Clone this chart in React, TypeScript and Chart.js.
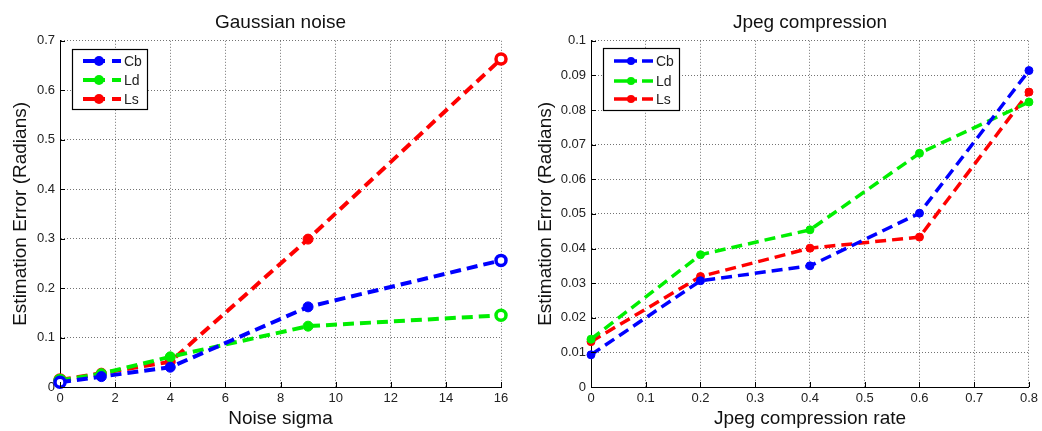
import React, { useEffect, useRef } from "react";
import { Chart, registerables } from "chart.js";

Chart.register(...registerables);

// ---------- data ----------
const seriesNames = ["Cb", "Ld", "Ls"];
const seriesColors = ["#0000ff", "#00ee00", "#ff0000"];

const noiseSigma = [0, 1.5, 4, 9, 16];
const noiseCb = [0.0095, 0.021, 0.04, 0.162, 0.256];
const noiseLd = [0.013, 0.027, 0.061, 0.123, 0.145];
const noiseLs = [0.014, 0.028, 0.051, 0.299, 0.663];

const jpegRate = [0, 0.2, 0.4, 0.6, 0.8];
const jpegCb = [0.0093, 0.0307, 0.035, 0.0502, 0.0914];
const jpegLd = [0.0138, 0.0382, 0.0454, 0.0675, 0.0823];
const jpegLs = [0.0131, 0.0319, 0.0401, 0.0433, 0.0852];

const noiseXTicks = [0, 2, 4, 6, 8, 10, 12, 14, 16];
const noiseYTicks = [0, 0.1, 0.2, 0.3, 0.4, 0.5, 0.6, 0.7];
const jpegXTicks = [0, 0.1, 0.2, 0.3, 0.4, 0.5, 0.6, 0.7, 0.8];
const jpegYTicks = [0, 0.01, 0.02, 0.03, 0.04, 0.05, 0.06, 0.07, 0.08, 0.09, 0.1];

const FONT = "'Liberation Sans', Arial, Helvetica, sans-serif";

const fmt = (v: number) => String(Number(Number(v).toFixed(3)));

// inward tick marks on left / bottom axes + boxed legend
const decorPlugin = {
  id: "decor",
  afterDraw(chart: any, _args: any, opts: any) {
    const { ctx, chartArea } = chart;
    const xs = chart.scales.x;
    const ys = chart.scales.y;
    ctx.save();
    ctx.strokeStyle = "#000";
    ctx.lineWidth = 1;
    ctx.beginPath();
    xs.ticks.forEach((t: any) => {
      const px = Math.round(xs.getPixelForValue(t.value)) + 0.5;
      ctx.moveTo(px, chartArea.bottom);
      ctx.lineTo(px, chartArea.bottom - 5);
    });
    ys.ticks.forEach((t: any) => {
      const py = Math.round(ys.getPixelForValue(t.value)) + 0.5;
      ctx.moveTo(chartArea.left, py);
      ctx.lineTo(chartArea.left + 5, py);
    });
    ctx.stroke();

    // legend
    const L = opts;
    ctx.fillStyle = "#fff";
    ctx.fillRect(L.x, L.y, L.w, L.h);
    ctx.strokeStyle = "#000";
    ctx.lineWidth = 1.2;
    ctx.strokeRect(L.x + 0.5, L.y + 0.5, L.w, L.h);
    chart.data.datasets.forEach((ds: any, i: number) => {
      const ry = L.rows[i];
      ctx.strokeStyle = ds.borderColor;
      ctx.lineWidth = ds.borderWidth;
      ctx.setLineDash([]);
      ctx.beginPath();
      ctx.moveTo(L.l1, ry);
      ctx.lineTo(L.l2, ry);
      ctx.moveTo(L.l3, ry);
      ctx.lineTo(L.l4, ry);
      ctx.stroke();
      ctx.fillStyle = ds.borderColor;
      ctx.beginPath();
      ctx.arc(L.mx, ry, L.mr, 0, Math.PI * 2);
      ctx.fill();
      ctx.fillStyle = "#222";
      ctx.font = `14px ${FONT}`;
      ctx.textBaseline = "middle";
      ctx.textAlign = "left";
      ctx.fillText(ds.label, L.tx, ry + 1);
    });
    ctx.restore();
  },
};

function makeConfig(p: any) {
  const n = p.xs.length;
  const datasets = p.series.map((vals: number[], i: number) => ({
    label: seriesNames[i],
    data: p.xs.map((x: number, j: number) => ({ x, y: vals[j] })),
    borderColor: seriesColors[i],
    backgroundColor: seriesColors[i],
    borderWidth: p.lineWidth,
    borderDash: [11, 6],
    pointRadius: p.pointRadius,
    pointBackgroundColor: p.xs.map((_: number, j: number) =>
      p.hollowEnds && (j === 0 || j === n - 1) ? "#ffffff" : seriesColors[i]
    ),
    pointBorderColor: seriesColors[i],
    pointBorderWidth: p.xs.map((_: number, j: number) =>
      p.hollowEnds && (j === 0 || j === n - 1) ? 3.5 : 1
    ),
    tension: 0,
    clip: false,
  }));
  const gridCommon = {
    color: "rgba(0,0,0,0.55)",
    lineWidth: 1,
    drawTicks: false,
  };
  const borderCommon = { display: true, color: "#000", width: 1, dash: [1, 2] };
  return {
    type: "line",
    data: { datasets },
    plugins: [decorPlugin],
    options: {
      responsive: false,
      animation: false,
      events: [],
      layout: { padding: { left: 0, right: p.padRight, top: 0, bottom: 0 } },
      plugins: {
        legend: { display: false },
        tooltip: { enabled: false },
        title: {
          display: true,
          text: p.title,
          fullSize: false,
          color: "#111",
          font: { family: FONT, size: 19, weight: "normal" },
          padding: { top: 11, bottom: 7 },
        },
        decor: p.legend,
      },
      scales: {
        x: {
          type: "linear",
          min: p.xs[0],
          max: p.xTicks[p.xTicks.length - 1],
          afterBuildTicks: (s: any) => {
            s.ticks = p.xTicks.map((v: number) => ({ value: v }));
          },
          afterFit: (s: any) => {
            s.height = 44;
          },
          ticks: {
            color: "#222",
            font: { family: FONT, size: 13 },
            padding: 4,
            maxRotation: 0,
            autoSkip: false,
            callback: (v: any) => fmt(v),
          },
          grid: gridCommon,
          border: borderCommon,
          title: {
            display: true,
            text: p.xTitle,
            color: "#111",
            font: { family: FONT, size: 19 },
            padding: { top: 0, bottom: 1 },
          },
        },
        y: {
          type: "linear",
          min: 0,
          max: p.yTicks[p.yTicks.length - 1],
          afterBuildTicks: (s: any) => {
            s.ticks = p.yTicks.map((v: number) => ({ value: v }));
          },
          afterFit: (s: any) => {
            s.width = p.yWidth;
          },
          ticks: {
            color: "#222",
            font: { family: FONT, size: 13 },
            padding: 5,
            autoSkip: false,
            callback: (v: any) => fmt(v),
          },
          grid: gridCommon,
          border: borderCommon,
          title: {
            display: true,
            text: "Estimation Error (Radians)",
            color: "#111",
            font: { family: FONT, size: 19 },
            padding: { top: p.yTitlePad, bottom: 0 },
          },
        },
      },
    },
  };
}

function Plot(props: { cfg: any; left: number }) {
  const ref = useRef<HTMLCanvasElement>(null);
  useEffect(() => {
    if (!ref.current) return;
    const chart = new Chart(ref.current, makeConfig(props.cfg) as any);
    return () => chart.destroy();
  }, []);
  return (
    <canvas
      ref={ref}
      width={521}
      height={431}
      style={{ position: "absolute", left: props.left, top: 0, width: 521, height: 431 }}
    />
  );
}

const leftCfg = {
  title: "Gaussian noise",
  xTitle: "Noise sigma",
  xs: noiseSigma,
  series: [noiseCb, noiseLd, noiseLs],
  xTicks: noiseXTicks,
  yTicks: noiseYTicks,
  yWidth: 60,
  padRight: 20,
  yTitlePad: 9,
  lineWidth: 4,
  pointRadius: 5,
  hollowEnds: true,
  legend: { x: 72, y: 49, w: 75, h: 60, rows: [61, 80, 99], l1: 83, l2: 105, l3: 112, l4: 121, mx: 99, mr: 5, tx: 124 },
};

const rightCfg = {
  title: "Jpeg compression",
  xTitle: "Jpeg compression rate",
  xs: jpegRate,
  series: [jpegCb, jpegLd, jpegLs],
  xTicks: jpegXTicks,
  yTicks: jpegYTicks,
  yWidth: 70,
  padRight: 11,
  yTitlePad: 13,
  lineWidth: 3.5,
  pointRadius: 4,
  hollowEnds: false,
  legend: { x: 82, y: 48, w: 76, h: 62, rows: [61, 81, 99], l1: 93, l2: 116, l3: 121, l4: 132, mx: 110, mr: 4, tx: 135 },
};

export default function App() {
  return (
    <div style={{ position: "absolute", left: 0, top: 0, width: 1042, height: 431, background: "#fff", overflow: "hidden" }}>
      <Plot cfg={leftCfg} left={0} />
      <Plot cfg={rightCfg} left={521} />
    </div>
  );
}
